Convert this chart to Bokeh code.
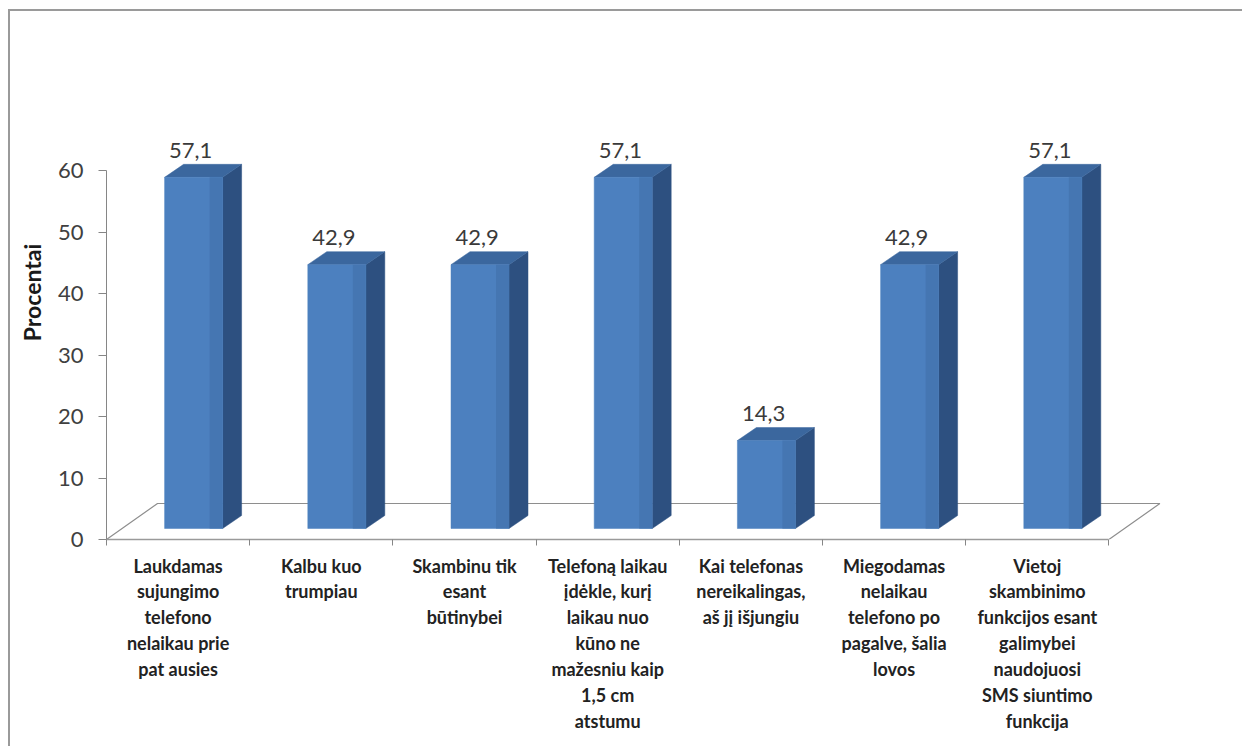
from bokeh.plotting import figure
from bokeh.models import Range1d, LinearAxis, FixedTicker
from bokeh.core.properties import value
from bokeh.embed import file_html
from bokeh.resources import INLINE

# ---- data ----
categories = [
    "Laukdamas\nsujungimo\ntelefono\nnelaikau prie\npat ausies",
    "Kalbu kuo\ntrumpiau",
    "Skambinu tik\nesant\nbūtinybei",
    "Telefoną laikau\nįdėkle, kurį\nlaikau nuo\nkūno ne\nmažesniu kaip\n1,5 cm\natstumu",
    "Kai telefonas\nnereikalingas,\naš jį išjungiu",
    "Miegodamas\nnelaikau\ntelefono po\npagalve, šalia\nlovos",
    "Vietoj\nskambinimo\nfunkcijos esant\ngalimybei\nnaudojuosi\nSMS siuntimo\nfunkcija",
]
values = [57.1, 42.9, 42.9, 57.1, 14.3, 42.9, 57.1]
value_labels = ["57,1", "42,9", "42,9", "57,1", "14,3", "42,9", "57,1"]
y_ticks = [0, 10, 20, 30, 40, 50, 60]
y_title = "Procentai"

# ---- layout geometry (pixels, in page coordinates) ----
OX, OY = 10, 11          # figure offset (inside the outer chart frame)
EXTRA_R = 10             # figure runs past the right window edge (frame is open there)
W, H = 1242 - OX + EXTRA_R, 751 - OY - 3
LEFT, TOP, AXIS_Y, RIGHT_B = 106 - OX, 45 - OY, 539 - OY, 46 + EXTRA_R
PPX = 143.2
PPY = 6.15
x0 = 0.5
x_end = x0 + (W - LEFT - RIGHT_B) / PPX
y_end = (AXIS_Y - TOP) / PPY

# 3D offsets (in data units)
OFF = 15.5 / PPX          # bar front shift right
D1 = 11 / PPY             # bar front shift up
BW = 58 / PPX             # bar front width
DDX = 19 / PPX            # bar depth x
DDY = 13 / PPY            # bar depth y
FX = 51 / PPX             # floor depth x
FY = 36 / PPY             # floor depth y

p = figure(width=W, height=H, x_range=Range1d(x0, x_end), y_range=Range1d(0, y_end),
           output_backend="svg", toolbar_location=None, title=None,
           x_axis_type=None, y_axis_type=None,
           min_border_left=LEFT, min_border_right=RIGHT_B,
           min_border_top=TOP, min_border_bottom=H - AXIS_Y)
p.margin = (OY, 0, 0, OX)
p.styles = {"box-shadow": "-2px -2px 0px 0px #9a9a9a"}
p.outline_line_color = None
p.background_fill_color = "white"
p.border_fill_color = "white"

n = len(values)
xs_c = [i + 1 for i in range(n)]

# floor outline
p.line(x=[x0, x0 + FX, x0 + n + FX, x0 + n],
       y=[0, FY, FY, 0], line_color="#8e8e8e", line_width=1.2)

# bars
front_x, side_xs, side_ys, top_xs, top_ys, strip_xs, strip_ys, front_ys = [], [], [], [], [], [], [], []
for xc, v in zip(xs_c, values):
    xl = xc + OFF - BW / 2
    xr = xc + OFF + BW / 2
    yb = D1
    yt = v + D1
    front_x.append([xl, xr, xr, xl])
    front_ys.append([yb, yb, yt, yt])
    strip_xs.append([xr - 13 / PPX, xr, xr, xr - 13 / PPX])
    strip_ys.append([yb, yb, yt, yt])
    side_xs.append([xr, xr + DDX, xr + DDX, xr])
    side_ys.append([yb, yb + DDY, yt + DDY, yt])
    top_xs.append([xl, xl + DDX, xr + DDX, xr])
    top_ys.append([yt, yt + DDY, yt + DDY, yt])

p.patches(xs=side_xs, ys=side_ys, fill_color="#2d5080", line_color="#2d5080", line_width=0.5)
p.patches(xs=top_xs, ys=top_ys, fill_color="#3b679e", line_color="#3b679e", line_width=0.5)
p.patches(xs=front_x, ys=front_ys, fill_color="#4c80bf", line_color="#4c80bf", line_width=0.5)
p.patches(xs=strip_xs, ys=strip_ys, fill_color="#4576b2", line_color=None)

# value labels
p.text(x=[xc + OFF - 0.02 for xc in xs_c],
       y=[v + D1 + DDY + 14 / PPY for v in values],
       text=value_labels, text_font=value("Lato"), text_font_size="22px",
       text_align="center", text_baseline="alphabetic", text_color="#3a3a3a")

# y axis
yaxis = LinearAxis(ticker=FixedTicker(ticks=y_ticks, minor_ticks=[]), bounds=(0, 60),
                   axis_label=y_title)
yaxis.axis_line_color = "#868686"
yaxis.major_tick_line_color = "#868686"
yaxis.major_tick_out = 8
yaxis.major_tick_in = 0
yaxis.minor_tick_line_color = None
yaxis.major_label_text_font = "Lato"
yaxis.major_label_text_font_size = "22px"
yaxis.major_label_text_color = "#404040"
yaxis.major_label_standoff = 15
yaxis.axis_label_text_font = "Lato"
yaxis.axis_label_text_font_style = "bold"
yaxis.axis_label_text_font_size = "23px"
yaxis.axis_label_text_color = "#1a1a1a"
yaxis.axis_label_standoff = 9
p.add_layout(yaxis, "left")

# x axis
xaxis = LinearAxis(ticker=FixedTicker(ticks=xs_c, minor_ticks=[x0 + i for i in range(n + 1)]),
                   bounds=(x0, x0 + n),
                   major_label_overrides={xc: lab for xc, lab in zip(xs_c, categories)})
xaxis.axis_line_color = "#9a9a9a"
xaxis.axis_line_width = 1.5
xaxis.major_tick_line_color = None
xaxis.major_tick_out = 0
xaxis.major_tick_in = 0
xaxis.minor_tick_line_color = "#868686"
xaxis.minor_tick_out = 6
xaxis.minor_tick_in = 0
xaxis.major_label_text_font = "Lato"
xaxis.major_label_text_font_style = "bold"
xaxis.major_label_text_font_size = "18px"
xaxis.major_label_text_color = "#222222"
xaxis.major_label_text_line_height = 1.18
xaxis.major_label_standoff = 9
p.add_layout(xaxis, "below")

open("out.html", "w").write(file_html(p, INLINE))
